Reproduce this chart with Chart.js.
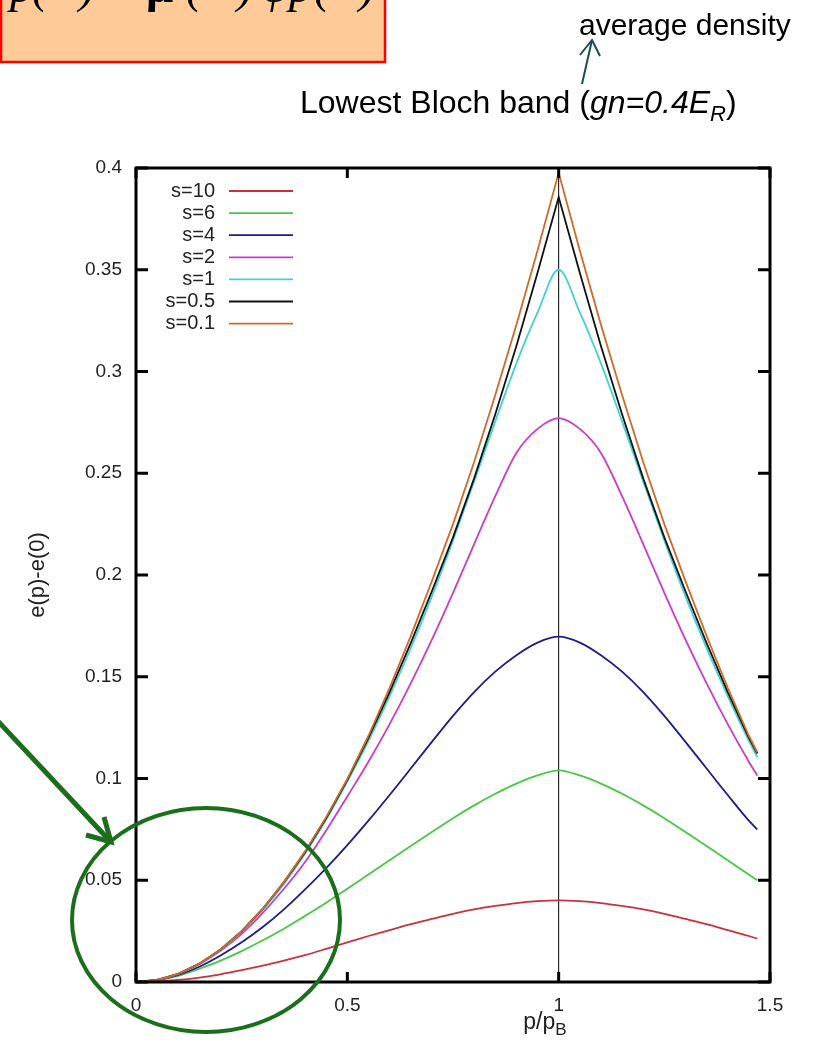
<!DOCTYPE html>
<html>
<head>
<meta charset="utf-8">
<script src="https://cdn.jsdelivr.net/npm/chart.js@4.4.1/dist/chart.umd.min.js"></script>
<style>
  html, body { margin: 0; padding: 0; background: #ffffff; }
  body { width: 814px; height: 1052px; position: relative; overflow: hidden; }
  #bandChart { position: absolute; left: 0; top: 0; }
  #notes { position: absolute; left: 0; top: 0; pointer-events: none; }
</style>
</head>
<body>
<canvas id="bandChart" width="814" height="1052"></canvas>

<svg id="notes" width="814" height="1052" xmlns="http://www.w3.org/2000/svg">
  <!-- formula box cut by the top edge -->
  <rect x="1" y="-4" width="384" height="66" fill="#fdca98" stroke="#ff0000" stroke-width="2.5"/>
  <g font-family="'Liberation Serif', serif" font-style="italic" font-size="48" fill="#000">
    <text x="10" y="2">p</text>
    <text x="32" y="2">(</text>
    <text x="79" y="2">)</text>
    <text x="146" y="2" font-weight="bold" font-style="normal">μ</text>
    <text x="186" y="2">(</text>
    <text x="237" y="2">)</text>
    <text x="262" y="2">φ</text>
    <text x="289" y="2">p</text>
    <text x="314" y="2">(</text>
    <text x="359" y="2">)</text>
  </g>

  <!-- average density note -->
  <text x="579" y="35" font-family="'Liberation Sans', Arial, sans-serif" font-size="30" fill="#000">average density</text>
  <g stroke="#1f4d4f" stroke-width="2" fill="none">
    <line x1="582" y1="84" x2="592" y2="40"/>
    <polyline points="580,55 592,40 600,56"/>
  </g>

  <!-- title -->
  <text x="300" y="113" font-family="'Liberation Sans', Arial, sans-serif" font-size="32" fill="#000">Lowest Bloch band (<tspan font-style="italic">gn=0.4E</tspan><tspan font-style="italic" font-size="22" dy="8">R</tspan><tspan dy="-8">)</tspan></text>

  <!-- axis titles -->
  <text transform="translate(44,575) rotate(-90)" text-anchor="middle" font-family="'Liberation Sans', Arial, sans-serif" font-size="22" fill="#222">e(p)-e(0)</text>
  <text x="545" y="1029" text-anchor="middle" font-family="'Liberation Sans', Arial, sans-serif" font-size="23" fill="#222">p/p<tspan font-size="17" dy="6">B</tspan></text>

  <!-- green highlight -->
  <g stroke="#1b6e1b" fill="none">
    <ellipse cx="206" cy="920" rx="134" ry="112" stroke-width="4"/>
    <line x1="-5" y1="718" x2="110" y2="841" stroke-width="5"/>
    <polyline points="86,835 111,842 104,817" stroke-width="5"/>
  </g>
</svg>

<script>
// momentum in units of p_B
const pValues = [0, 0.05, 0.1, 0.15, 0.2, 0.25, 0.3, 0.35, 0.4, 0.45, 0.5,
  0.55, 0.6, 0.65, 0.7, 0.75, 0.8, 0.85, 0.9, 0.95, 1,
  1.05, 1.1, 1.15, 1.2, 1.25, 1.3, 1.35, 1.4, 1.45, 1.47];

const seriesLabels = ['s=10', 's=6', 's=4', 's=2', 's=1', 's=0.5', 's=0.1'];

// e(p)-e(0)
const e_s10 = [0, 0.0003, 0.001, 0.0022, 0.0038, 0.0058, 0.008, 0.0105, 0.0132, 0.0163, 0.0195,
  0.0226, 0.0255, 0.0284, 0.031, 0.0335, 0.0357, 0.0374, 0.0388, 0.0397, 0.0401,
  0.0397, 0.0388, 0.0374, 0.0357, 0.0335, 0.031, 0.0284, 0.0255, 0.0226, 0.0213];
const e_s6 = [0, 0.0008, 0.003, 0.0065, 0.0105, 0.0152, 0.0205, 0.0262, 0.0325, 0.039, 0.0458,
  0.0528, 0.0598, 0.0668, 0.0737, 0.0805, 0.0868, 0.0925, 0.0975, 0.1015, 0.104,
  0.1015, 0.0975, 0.0925, 0.0868, 0.0805, 0.0737, 0.0668, 0.0598, 0.0528, 0.05];
const e_s4 = [0, 0.001, 0.0035, 0.0075, 0.013, 0.0195, 0.027, 0.0357, 0.0455, 0.056, 0.0673,
  0.0793, 0.0919, 0.1049, 0.118, 0.1308, 0.1425, 0.1525, 0.1606, 0.1668, 0.1697,
  0.1668, 0.1606, 0.1525, 0.1425, 0.1308, 0.118, 0.1049, 0.0919, 0.0793, 0.075];
const e_s2 = [0, 0.001, 0.0039, 0.0087, 0.0153, 0.0237, 0.034, 0.0458, 0.059, 0.0745, 0.0912,
  0.1082, 0.1267, 0.1467, 0.1682, 0.1912, 0.2152, 0.2387, 0.26, 0.2718, 0.2771,
  0.2718, 0.26, 0.2387, 0.2152, 0.1912, 0.1682, 0.1467, 0.1267, 0.1082, 0.1014];
const e_s1 = [0, 0.001, 0.004, 0.0089, 0.0157, 0.0246, 0.0354, 0.0482, 0.063, 0.0798, 0.0985,
  0.1185, 0.1405, 0.164, 0.1895, 0.217, 0.246, 0.2755, 0.304, 0.329, 0.35,
  0.329, 0.304, 0.2755, 0.246, 0.217, 0.1895, 0.164, 0.1405, 0.1185, 0.1105];
const e_s05 = [0, 0.001, 0.004, 0.009, 0.016, 0.025, 0.036, 0.049, 0.0638, 0.0806, 0.0993,
  0.12, 0.1425, 0.1665, 0.192, 0.2185, 0.2475, 0.279, 0.3125, 0.3485, 0.3857,
  0.3485, 0.3125, 0.279, 0.2475, 0.2185, 0.192, 0.1665, 0.1425, 0.12, 0.1123];
const e_s01 = [0, 0.001, 0.004, 0.009, 0.016, 0.025, 0.036, 0.0492, 0.0642, 0.081, 0.0998,
  0.121, 0.1445, 0.17, 0.197, 0.225, 0.2555, 0.2885, 0.323, 0.3595, 0.3976,
  0.3595, 0.323, 0.2885, 0.2555, 0.225, 0.197, 0.17, 0.1445, 0.121, 0.1128];

const seriesValues = [e_s10, e_s6, e_s4, e_s2, e_s1, e_s05, e_s01];
const seriesColors = ['#c8323c', '#46c846', '#1c1c8c', '#c83cc8', '#40d2d2', '#111111', '#d06a28'];
// the two weakest lattices have a cusp at the zone edge
const seriesSmooth = [true, true, true, true, true, false, false];

const xTicks = [0, 0.5, 1, 1.5];
const yTicks = [0, 0.05, 0.1, 0.15, 0.2, 0.25, 0.3, 0.35, 0.4];
const bandEdge = 1;

const FONT = "'Liberation Sans', Arial, sans-serif";

// gnuplot style frame with inward ticks and the zone edge line
const framePlugin = {
  id: 'frame',
  beforeDatasetsDraw(chart) {
    const { ctx, chartArea: a, scales } = chart;
    const xe = scales.x.getPixelForValue(bandEdge);
    ctx.save();
    ctx.strokeStyle = '#000';
    ctx.lineWidth = 1;
    ctx.beginPath();
    ctx.moveTo(xe, a.top);
    ctx.lineTo(xe, a.bottom);
    ctx.stroke();
    ctx.restore();
  },
  afterDatasetsDraw(chart) {
    const { ctx, chartArea: a, scales } = chart;
    ctx.save();
    ctx.strokeStyle = '#000';
    ctx.lineWidth = 3;
    ctx.strokeRect(a.left, a.top, a.right - a.left, a.bottom - a.top);
    ctx.beginPath();
    yTicks.forEach(v => {
      const y = scales.y.getPixelForValue(v);
      ctx.moveTo(a.left, y); ctx.lineTo(a.left + 12, y);
      ctx.moveTo(a.right, y); ctx.lineTo(a.right - 12, y);
    });
    xTicks.forEach(v => {
      const x = scales.x.getPixelForValue(v);
      ctx.moveTo(x, a.bottom); ctx.lineTo(x, a.bottom - 10);
      ctx.moveTo(x, a.top); ctx.lineTo(x, a.top + 10);
    });
    ctx.stroke();
    ctx.restore();
  },
  afterDraw(chart) {
    // key in the upper left corner: label, then line sample
    const { ctx, chartArea: a } = chart;
    ctx.save();
    ctx.font = '20px ' + FONT;
    ctx.textAlign = 'right';
    ctx.textBaseline = 'middle';
    chart.data.datasets.forEach((ds, i) => {
      const y = a.top + 23 + i * 22.1;
      ctx.fillStyle = '#222';
      ctx.fillText(ds.label, a.left + 79, y);
      ctx.strokeStyle = ds.borderColor;
      ctx.lineWidth = 1.8;
      ctx.beginPath();
      ctx.moveTo(a.left + 93, y);
      ctx.lineTo(a.left + 157, y);
      ctx.stroke();
    });
    ctx.restore();
  }
};

const datasets = seriesLabels.map((label, i) => ({
  label: label,
  data: pValues.map((p, k) => ({ x: p, y: seriesValues[i][k] })),
  borderColor: seriesColors[i],
  borderWidth: 1.8,
  pointRadius: 0,
  fill: false,
  tension: 0,
  cubicInterpolationMode: seriesSmooth[i] ? 'monotone' : 'default',
  order: seriesLabels.length - i
}));

new Chart(document.getElementById('bandChart'), {
  type: 'line',
  data: { datasets: datasets },
  plugins: [framePlugin],
  options: {
    responsive: false,
    animation: false,
    layout: { padding: { left: 0, right: 44, top: 168, bottom: 30 } },
    plugins: {
      legend: { display: false },
      tooltip: { enabled: false },
      title: { display: false }
    },
    scales: {
      x: {
        type: 'linear',
        min: 0,
        max: 1.5,
        afterBuildTicks: scale => { scale.ticks = xTicks.map(v => ({ value: v })); },
        afterFit: scale => { scale.height = 40; },
        grid: { display: false, drawTicks: false },
        border: { display: false },
        ticks: {
          padding: 12,
          color: '#222',
          font: { family: FONT, size: 19 },
          maxRotation: 0,
          callback: v => String(+v.toFixed(2))
        }
      },
      y: {
        type: 'linear',
        min: 0,
        max: 0.4,
        afterBuildTicks: scale => { scale.ticks = yTicks.map(v => ({ value: v })); },
        afterFit: scale => { scale.width = 136; },
        grid: { display: false, drawTicks: false },
        border: { display: false },
        ticks: {
          padding: 14,
          color: '#222',
          font: { family: FONT, size: 19 },
          callback: v => String(+v.toFixed(2))
        }
      }
    }
  }
});
</script>
</body>
</html>
